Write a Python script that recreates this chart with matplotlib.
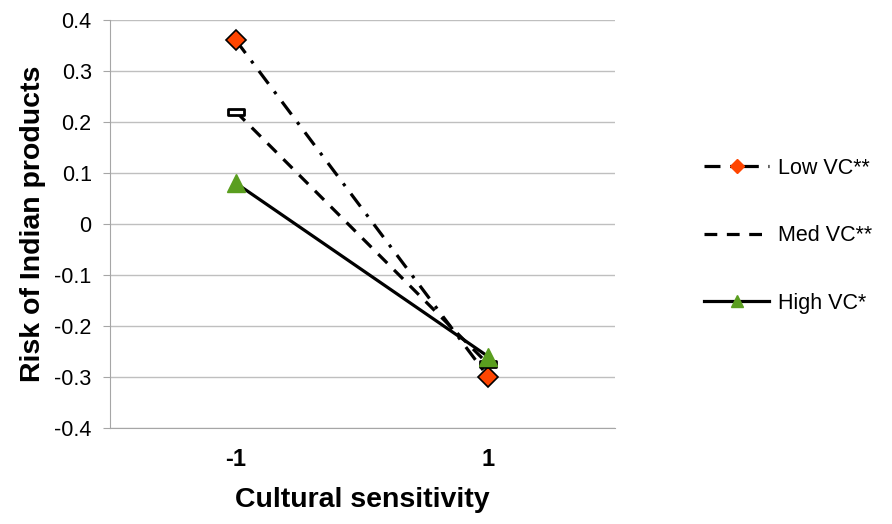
import matplotlib
matplotlib.use("Agg")
import matplotlib.pyplot as plt
from matplotlib.path import Path
from matplotlib.lines import Line2D

plt.rcParams['font.family'] = ['Liberation Sans', 'DejaVu Sans']

categories = ["-1", "1"]
low_vc = [0.36, -0.30]
med_vc = [0.22, -0.275]
high_vc = [0.08, -0.26]
yticks = [-0.4, -0.3, -0.2, -0.1, 0, 0.1, 0.2, 0.3, 0.4]
ytick_labels = ["-0.4", "-0.3", "-0.2", "-0.1", "0", "0.1", "0.2", "0.3", "0.4"]
series_labels = ["Low VC**", "Med VC**", "High VC*"]

fig = plt.figure(figsize=(8.92, 5.24), dpi=100)
ax = fig.add_axes([0.123, 0.183, 0.566, 0.779])

x = list(range(len(categories)))
dash_marker = Path([(-1, -0.35), (1, -0.35), (1, 0.35), (-1, 0.35), (-1, -0.35)],
                   [Path.MOVETO, Path.LINETO, Path.LINETO, Path.LINETO, Path.CLOSEPOLY])

low_style = dict(color='black', lw=2.3, linestyle=(0, (5, 3, 1, 3)))
med_style = dict(color='black', lw=2.3, linestyle=(0, (4, 3)))
high_style = dict(color='black', lw=2.3, linestyle='-')

ax.plot(x, low_vc, **low_style,
        marker='D', markersize=10, markerfacecolor='#FF4500', markeredgecolor='black',
        markeredgewidth=1.2, zorder=3)
ax.plot(x, med_vc, **med_style,
        marker=dash_marker, markersize=12, markerfacecolor='white', markeredgecolor='black',
        markeredgewidth=2.0, zorder=3)
ax.plot(x, high_vc, **high_style,
        marker='^', markersize=13, markerfacecolor='#5A9E1F', markeredgecolor='#5A9E1F',
        zorder=4)

ax.set_xlim(-0.5, 1.5)
ax.set_ylim(-0.4, 0.4)
ax.set_xticks(x)
ax.set_xticklabels(categories, fontsize=17, fontweight='bold')
ax.set_yticks(yticks)
ax.set_yticklabels(ytick_labels, fontsize=15.5)
ax.yaxis.grid(True, color='#BFBFBF', lw=1)
ax.set_axisbelow(True)
for s in ['top', 'right']:
    ax.spines[s].set_visible(False)
ax.spines['left'].set_color('#A6A6A6')
ax.spines['bottom'].set_color('#A6A6A6')
ax.tick_params(axis='y', length=5, color='#A6A6A6', pad=8)
ax.tick_params(axis='x', length=0, pad=14)

ax.set_ylabel('Risk of Indian products', fontsize=20.5, fontweight='bold', labelpad=6)
ax.set_xlabel('Cultural sensitivity', fontsize=20.5, fontweight='bold', labelpad=12)

handles = [
    Line2D([], [], **low_style, marker='D', markersize=7, markerfacecolor='#FF4500',
           markeredgecolor='#FF4500'),
    Line2D([], [], **med_style),
    Line2D([], [], **high_style, marker='^', markersize=9, markerfacecolor='#5A9E1F',
           markeredgecolor='#5A9E1F'),
]
fig.legend(handles, series_labels, loc='center left', bbox_to_anchor=(0.768, 0.55),
           frameon=False, fontsize=15.5, handlelength=3.0, labelspacing=2.15,
           handletextpad=0.4)

fig.savefig('out.png', dpi=100)
